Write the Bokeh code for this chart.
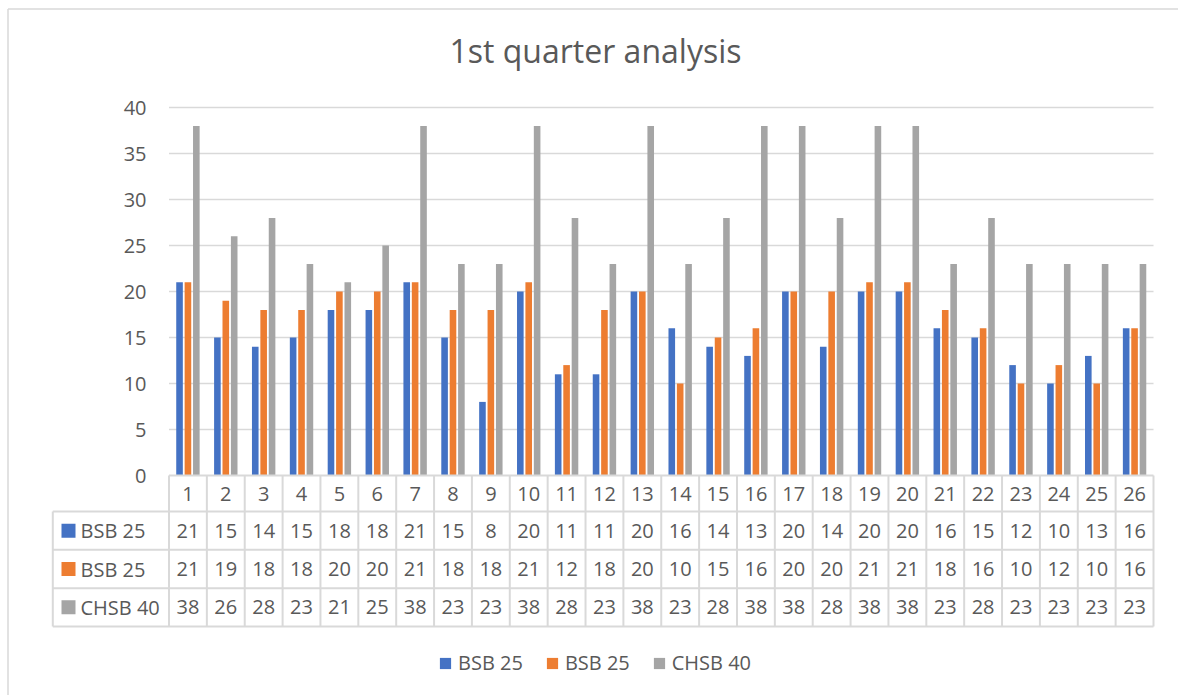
from bokeh.plotting import figure
from bokeh.models import Range1d, ColumnDataSource, Legend, LegendItem
from bokeh.transform import dodge
from bokeh.core.properties import value
from bokeh.embed import file_html
from bokeh.resources import INLINE

# ---------------- data ----------------
categories = list(range(1, 27))
series_names = ["BSB 25", "BSB 25", "CHSB 40"]
bsb25_a = [21, 15, 14, 15, 18, 18, 21, 15, 8, 20, 11, 11, 20, 16, 14, 13, 20, 14, 20, 20, 16, 15, 12, 10, 13, 16]
bsb25_b = [21, 19, 18, 18, 20, 20, 21, 18, 18, 21, 12, 18, 20, 10, 15, 16, 20, 20, 21, 21, 18, 16, 10, 12, 10, 16]
chsb40 = [38, 26, 28, 23, 21, 25, 38, 23, 23, 38, 28, 23, 38, 23, 28, 38, 38, 28, 38, 38, 23, 28, 23, 23, 23, 23]
y_ticks = [0, 5, 10, 15, 20, 25, 30, 35, 40]
title_text = "1st quarter analysis"

# ---------------- styles / layout ----------------
colors = ["#4472C4", "#ED7D31", "#A5A5A5"]
TEXT = "#595959"
GRID = "#d9d9d9"
FONT = value("Open Sans")
W, H = 1178, 695

# pixel layout of the reference
PLOT_L, PLOT_R = 168.5, 1153.0
Y0_PX, Y40_PX = 475.0, 107.0
PX_CAT = (PLOT_R - PLOT_L) / len(categories)
PX_UNIT = (Y0_PX - Y40_PX) / 40.0


def px2x(X):
    return 0.5 + (X - PLOT_L) / PX_CAT


def px2y(Y):
    return (Y0_PX - Y) / PX_UNIT


p = figure(width=W, height=H, output_backend="svg", toolbar_location=None,
           x_range=Range1d(px2x(0), px2x(W)),
           y_range=Range1d(px2y(H), px2y(0)),
           x_axis_type=None, y_axis_type=None, title=None, min_border=0)
p.grid.visible = False
p.outline_line_color = None
p.background_fill_color = "white"
p.border_fill_color = "white"

# chart-area border (left and top visible)
p.segment(x0=[px2x(7.5), px2x(7.5)], x1=[px2x(7.5), px2x(W + 5)],
          y0=[px2y(8.5), px2y(8.5)], y1=[px2y(H + 5), px2y(8.5)],
          line_color=GRID, line_width=1.5)

# title
p.text(x=[px2x(595)], y=[px2y(50)], text=[title_text], text_font=FONT,
       text_font_size="32px", text_color=TEXT, text_align="center",
       text_baseline="middle")

# gridlines (0 line is the table's top border)
grid_vals = [t for t in y_ticks if t > 0]
p.segment(x0=[0.5] * len(grid_vals), x1=[len(categories) + 0.5] * len(grid_vals),
          y0=grid_vals, y1=grid_vals, line_color=GRID, line_width=1.3)

# y tick labels
p.text(x=[px2x(146)] * len(y_ticks), y=y_ticks, text=[str(t) for t in y_ticks],
       text_font=FONT, text_font_size="20px", text_color=TEXT,
       text_align="right", text_baseline="middle")

# bars
src = ColumnDataSource(dict(x=categories, a=bsb25_a, b=bsb25_b, c=chsb40))
OFFS = 8.4 / PX_CAT
BW = 6.6 / PX_CAT
renderers = []
for col, off, c in zip(["a", "b", "c"], [-OFFS, 0.0, OFFS], colors):
    r = p.vbar(x=dodge("x", off), top=col, width=BW, bottom=0, source=src,
               fill_color=c, line_color=None)
    renderers.append(r)

# data table
ROW_Y = [475.0, 511.0, 549.3, 587.7, 626.0]  # header top, row boundaries
LBL_L = 52.3
yb = [px2y(v) for v in ROW_Y]
n = len(categories)
hx0 = [0.5] + [px2x(LBL_L)] * 4
hx1 = [n + 0.5] * 5
p.segment(x0=hx0, x1=hx1, y0=yb, y1=yb, line_color=GRID, line_width=2)
vx = [i + 0.5 for i in range(0, n + 1)] + [px2x(LBL_L)]
vy0 = [yb[0]] * (n + 1) + [yb[1]]
vy1 = [yb[4]] * (n + 2)
p.segment(x0=vx, x1=vx, y0=vy0, y1=vy1, line_color=GRID, line_width=2)

hy = (yb[0] + yb[1]) / 2
p.text(x=categories, y=[hy] * n, text=[str(c) for c in categories], text_font=FONT,
       text_font_size="20px", text_color=TEXT, text_align="center", text_baseline="middle")
for k, vals in enumerate([bsb25_a, bsb25_b, chsb40]):
    ry = (yb[k + 1] + yb[k + 2]) / 2
    p.text(x=categories, y=[ry] * n, text=[str(v) for v in vals], text_font=FONT,
           text_font_size="20px", text_color=TEXT, text_align="center", text_baseline="middle")
    p.rect(x=[px2x(68)], y=[ry], width=14 / PX_CAT, height=14 / PX_UNIT,
           fill_color=colors[k], line_color=None)
    p.text(x=[px2x(80)], y=[ry], text=[series_names[k]], text_font=FONT,
           text_font_size="20px", text_color=TEXT, text_align="left", text_baseline="middle")

# legend
legend = Legend(items=[LegendItem(label=series_names[i], renderers=[renderers[i]]) for i in range(3)],
                orientation="horizontal", location=(438, 19),
                padding=0, margin=0, spacing=22, label_standoff=6,
                glyph_width=14, glyph_height=14,
                label_text_font="Open Sans", label_text_font_size="20px",
                label_text_color=TEXT, border_line_alpha=0, background_fill_alpha=0)
p.add_layout(legend)

open("out.html", "w").write(file_html(p, INLINE))
